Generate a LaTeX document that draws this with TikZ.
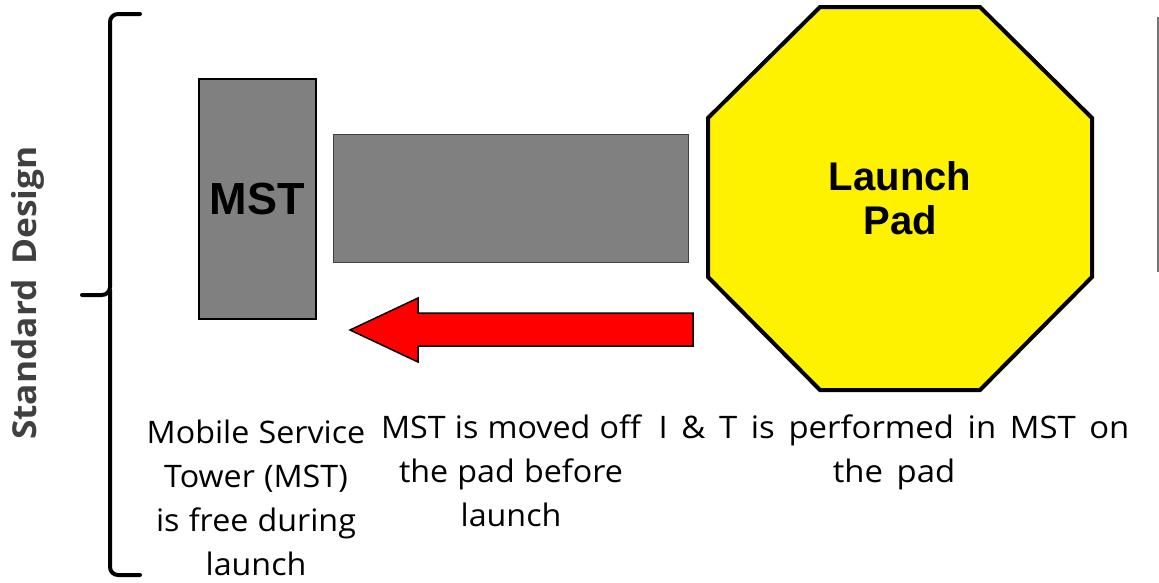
\documentclass[tikz,border=0pt]{standalone}
\usepackage{fontspec}
\setmainfont{Open Sans}[FakeStretch=1.04,WordSpace=1.1]
\newfontfamily\widecaption{Open Sans}[FakeStretch=1.06,WordSpace=1.6]
\newfontfamily\stdfont{Open Sans}[FakeStretch=1.07,WordSpace=1.6]
\newfontfamily\arialfont{Liberation Sans}
\begin{document}
\begin{tikzpicture}[x=1pt,y=-1pt,
  tower/.style={draw=black,line width=1.8pt,fill=black!50},
  slab/.style={draw=black!75,line width=1.4pt,fill=black!50},
  caption/.style={align=center,font=\fontsize{31}{44}\selectfont,inner sep=0pt},
  boldlabel/.style={font=\arialfont\bfseries,align=center,inner sep=0pt}]
\useasboundingbox (0,0) rectangle (1159,582);
% bracket on the left
\draw[line width=4pt,line cap=round,rounded corners=8pt]
  (140,14) -- (110,14) -- (110,295) -- (82,295);
\draw[line width=4pt,line cap=round,rounded corners=8pt]
  (110,290) -- (110,575) -- (140,575);
\node[rotate=90,font=\stdfont\fontsize{33}{36}\selectfont\bfseries,text=black!75] (std) at (28,293) {Standard Design};
% mobile service tower
\node[tower,minimum width=117pt,minimum height=240pt,anchor=north west,inner sep=0pt] (mst) at (198,78) {};
\node[boldlabel,font=\arialfont\bfseries\fontsize{45}{50}\selectfont] (mstlabel) at (mst.center) {MST};
% pad footprint
\node[slab,minimum width=355pt,minimum height=128pt,anchor=north west,inner sep=0pt] (slab) at (333,134) {};
% launch pad octagon
\draw[line width=4pt,fill=yellow,line join=miter]
  (820,7) -- (980,7) -- (1092,118) -- (1092,277) -- (980,390) -- (820,390) -- (708,277) -- (708,118) -- cycle;
\coordinate (padc) at (900,198);
\node[boldlabel,font=\arialfont\bfseries\fontsize{40}{44}\selectfont] (padlabel) at (padc) {Launch\\Pad};
% red arrow
\draw[fill=red,line width=1.5pt,line join=miter]
  (693,313) -- (418,313) -- (418,298) -- (350,330) -- (418,362) -- (418,346) -- (693,346) -- cycle;
% right-hand rule
\draw[black!55,line width=2pt] (1158,17) -- (1158,272);
% captions
\node[caption] (c1) at (256,498) {Mobile Service\\Tower (MST)\\is free during\\launch};
\node[caption,anchor=north] (c2) at (511,415) {MST is moved off\\the pad before\\launch};
\node[caption,anchor=north,font=\widecaption\fontsize{31}{44}\selectfont] (c3) at (894,415) {I \& T is performed in MST on\\the pad};
\end{tikzpicture}
\end{document}
